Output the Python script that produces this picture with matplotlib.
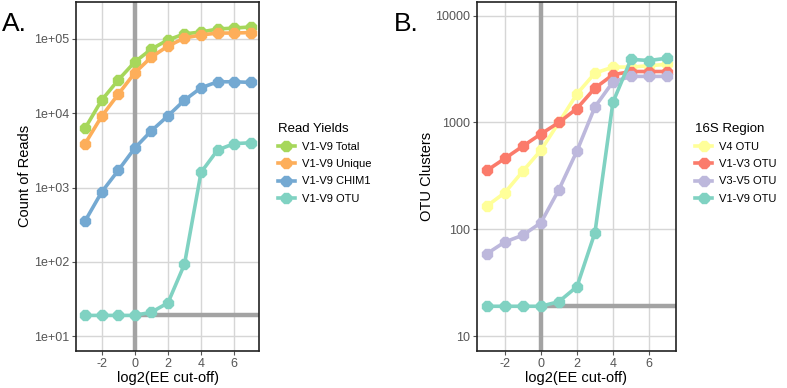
import matplotlib
matplotlib.use('Agg')
import matplotlib.pyplot as plt
import numpy as np

plt.rcParams['font.family'] = ['Liberation Sans', 'DejaVu Sans']
plt.rcParams['axes.unicode_minus'] = False

# log2(EE cut-off)
ee = [-3, -2, -1, 0, 1, 2, 3, 4, 5, 6, 7]

# panel A: read yields
total = [6300, 15000, 28000, 49000, 73000, 97000, 117000, 124000, 136000, 140000, 145000]
unique = [3900, 9100, 18000, 35000, 57000, 80000, 103000, 113000, 120000, 120000, 122000]
chim1 = [355, 870, 1700, 3400, 5800, 9200, 15000, 22000, 26500, 26500, 26000]
otu_a = [19, 19, 19, 19, 21, 28, 93, 1600, 3200, 3900, 4000]
seriesA = [('V1-V9 Total', total, '#a6d75b'),
           ('V1-V9 Unique', unique, '#fdae5a'),
           ('V1-V9 CHIM1', chim1, '#74a9d2'),
           ('V1-V9 OTU', otu_a, '#80d2c2')]

# panel B: OTU clusters by 16S region
v4 = [165, 220, 350, 550, 1000, 1850, 2900, 3300, 3300, 3400, 3500]
v1v3 = [355, 460, 600, 780, 1000, 1350, 2100, 2800, 3000, 3000, 3000]
v3v5 = [59, 76, 88, 115, 235, 540, 1400, 2400, 2700, 2700, 2700]
otu_b = [19, 19, 19, 19, 21, 29, 93, 1550, 3900, 3800, 4000]
seriesB = [('V4 OTU', v4, '#ffff99'),
           ('V1-V3 OTU', v1v3, '#fb7b6b'),
           ('V3-V5 OTU', v3v5, '#bdb8dc'),
           ('V1-V9 OTU', otu_b, '#80d2c2')]

ref_x = 0
ref_y = 19


def drawPanel(ax, series, ylim, yticks, yticklabels, ylabel):
    ax.set_xlim(-3.55, 7.5)
    ax.set_ylim(*ylim)
    ax.set_yscale('log')
    ax.set_xticks([-2, 0, 2, 4, 6])
    ax.set_yticks(yticks)
    ax.set_yticklabels(yticklabels)
    ax.minorticks_off()
    ax.grid(True, color='#d6d6d6', linewidth=1.0)
    ax.set_axisbelow(True)
    ax.axvline(ref_x, color='#a3a3a3', linewidth=3.2, zorder=1.5)
    ax.plot([ref_x, 7.5], [ref_y, ref_y], color='#a3a3a3', linewidth=3.2, zorder=1.5)
    for name, vals, col in series:
        ax.plot(ee, vals, color=col, linewidth=2.6, marker='8', markersize=8,
                label=name, zorder=3)
    for s in ax.spines.values():
        s.set_color('#222222')
        s.set_linewidth(1.2)
    ax.tick_params(colors='#555555', labelsize=9, length=3, width=0.8, pad=2)
    ax.set_xlabel('log2(EE cut-off)', fontsize=10.5, labelpad=1)
    ax.set_ylabel(ylabel, fontsize=10.5, labelpad=1)


fig = plt.figure(figsize=(7.87, 3.88), dpi=100)
axA = fig.add_axes([0.0966, 0.0954, 0.2325, 0.9])
axB = fig.add_axes([0.606, 0.0954, 0.253, 0.9])

drawPanel(axA, seriesA, (10**0.8, 10**5.5), [10, 100, 1000, 10000, 100000],
          ['1e+01', '1e+02', '1e+03', '1e+04', '1e+05'], 'Count of Reads')
drawPanel(axB, seriesB, (10**0.86, 10**4.13), [10, 100, 1000, 10000],
          ['10', '100', '1000', '10000'], 'OTU Clusters')

for ax, title, x in [(axA, 'Read Yields', 0.347), (axB, '16S Region', 0.877)]:
    leg = ax.legend(title=title, loc='upper left', bbox_to_anchor=(x, 0.695),
                    bbox_transform=fig.transFigure, frameon=False, fontsize=8,
                    title_fontsize=9.5, handlelength=1.6, handletextpad=0.6,
                    labelspacing=0.65, borderaxespad=0, markerscale=0.9)
    leg._legend_box.align = 'left'

fig.text(0.003, 0.92, 'A.', fontsize=19)
fig.text(0.5, 0.92, 'B.', fontsize=19)

fig.savefig('out.png', dpi=100)
